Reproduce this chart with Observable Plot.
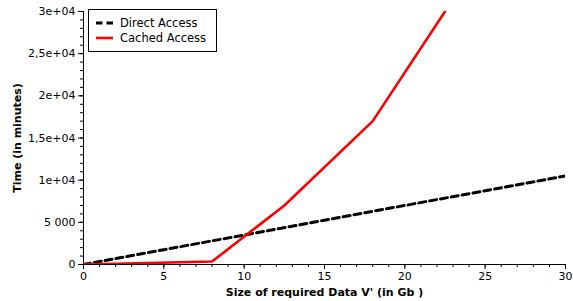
<!DOCTYPE html>
<html>
<head>
<meta charset="utf-8">
<script src="https://cdn.jsdelivr.net/npm/d3@7"></script>
<script src="https://cdn.jsdelivr.net/npm/@observablehq/plot@0.6"></script>
<style>
  body { margin: 0; background: white; }
  #wrap { position: relative; width: 573px; height: 301px; font-family: "DejaVu Sans", sans-serif; }
  #legend { position: absolute; left: 88px; top: 9px; width: 129px; height: 43px; border: 1px solid #000; background: white; box-sizing: border-box; font-size: 11.5px; }
  .row { position: absolute; left: 0; }
  .row span { position: absolute; left: 31px; white-space: nowrap; line-height: 12px; top: -6px; }
  .samp { position: absolute; left: 7px; top: -3px; }
  .samp svg { display: block; }
  svg [aria-label="y-axis label"], svg [aria-label="x-axis label"] { font-weight: bold; }
</style>
</head>
<body>
<div id="wrap">
  <div id="chart"></div>
  <div id="legend"></div>
</div>
<script>
// Data
const directX = [0, 5, 10, 15, 20, 25, 30];
const directY = [0, 1750, 3500, 5250, 7000, 8750, 10500];
const cachedX = [0, 8, 12.5, 18, 22.5];
const cachedY = [0, 350, 7000, 17000, 30000];
const seriesNames = ["Direct Access", "Cached Access"];
const xTicks = [0, 5, 10, 15, 20, 25, 30];
const yTicks = [0, 5000, 10000, 15000, 20000, 25000, 30000];
const yTickLabels = ["0", "5 000", "1e+04", "1,5e+04", "2e+04", "2,5e+04", "3e+04"];
const xLabel = "Size of required Data V' (in Gb )";
const yLabel = "Time (in minutes)";

const direct = directX.map((x, i) => ({x, y: directY[i]}));
const cached = cachedX.map((x, i) => ({x, y: cachedY[i]}));
const xMinor = d3.range(0, 31, 1);
const yMinor = d3.range(0, 30001, 1000);

const chart = Plot.plot({
  width: 573, height: 301,
  marginLeft: 83, marginRight: 8, marginTop: 11, marginBottom: 37,
  style: {fontFamily: "DejaVu Sans, sans-serif", fontSize: "11px", color: "#000", background: "white", overflow: "visible"},
  x: {domain: [0, 30]},
  y: {domain: [0, 30000]},
  marks: [
    Plot.axisY({ticks: yMinor, tickSize: 3, tickFormat: () => "", label: null}),
    Plot.axisX({ticks: xMinor, tickSize: 3, tickFormat: () => "", label: null}),
    Plot.axisY({ticks: yTicks, tickSize: 5, tickPadding: 3, tickFormat: d => yTickLabels[yTicks.indexOf(d)],
      label: yLabel, labelAnchor: "center", labelOffset: 70, labelArrow: "none"}),
    Plot.axisX({ticks: xTicks, tickSize: 5, tickPadding: 3, tickFormat: d => String(d),
      label: xLabel, labelAnchor: "center", labelOffset: 31, labelArrow: "none"}),
    Plot.ruleX(xTicks.slice(0, 1), {stroke: "#000"}),
    Plot.ruleY(yTicks.slice(0, 1), {stroke: "#000"}),
    Plot.line(direct, {x: "x", y: "y", stroke: "#000", strokeWidth: 3, strokeDasharray: "7,4", clip: true}),
    Plot.line(cached, {x: "x", y: "y", stroke: "#ff0000", strokeWidth: 2.6, clip: true})
  ]
});
document.getElementById("chart").appendChild(chart);

const legend = document.getElementById("legend");
const samples = [
  {top: 13, svg: '<svg width="17" height="6"><line x1="0" y1="3" x2="17" y2="3" stroke="#000" stroke-width="3" stroke-dasharray="6.5,4"/></svg>'},
  {top: 28, svg: '<svg width="17" height="6"><line x1="0" y1="3" x2="17" y2="3" stroke="#ff0000" stroke-width="2.6"/></svg>'}
];
seriesNames.forEach((name, i) => {
  const row = document.createElement("div");
  row.className = "row";
  row.style.top = samples[i].top + "px";
  row.innerHTML = `<div class="samp">${samples[i].svg}</div><span>${name}</span>`;
  legend.appendChild(row);
});
</script>
</body>
</html>
